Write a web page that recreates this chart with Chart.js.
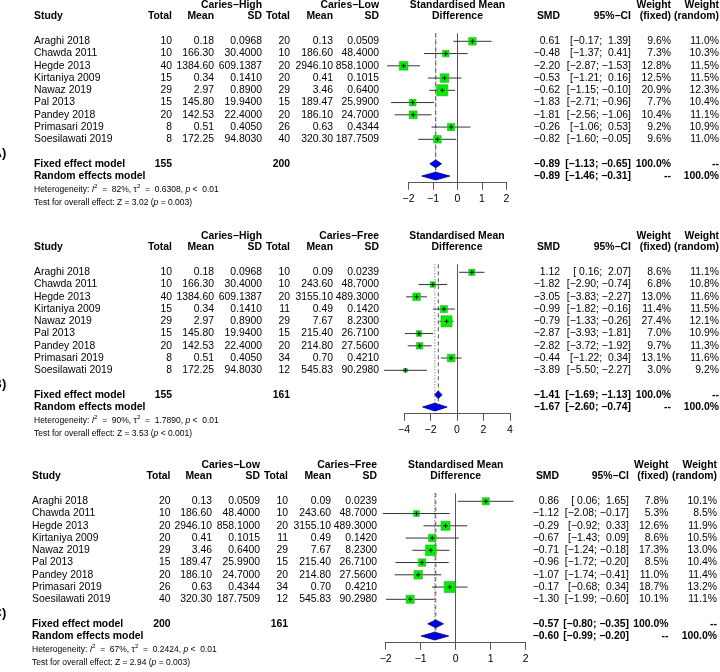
<!DOCTYPE html>
<html>
<head>
<meta charset="utf-8">
<script src="https://cdn.jsdelivr.net/npm/chart.js@4.4.1/dist/chart.umd.min.js"></script>
<style>
  html, body { margin: 0; padding: 0; background: #fff; overflow: hidden; width: 720px; height: 672px; }
  .panel { position: absolute; left: 0; width: 720px; height: 231px; }
</style>
</head>
<body>
<div class="panel" style="top:0px"><canvas id="chartA" width="720" height="231"></canvas></div>
<div class="panel" style="top:231px"><canvas id="chartB" width="720" height="231"></canvas></div>
<div class="panel" style="top:460px"><canvas id="chartC" width="720" height="231"></canvas></div>
<script>
// Estudos (mesma ordem nos três painéis)
const studies = ["Araghi 2018", "Chawda 2011", "Hegde 2013", "Kirtaniya 2009", "Nawaz 2019",
  "Pal 2013", "Pandey 2018", "Primasari 2019", "Soesilawati 2019"]

// Caries-High
const highN = [10, 10, 40, 15, 29, 15, 20, 8, 8]
const highMean = [0.18, 166.30, 1384.60, 0.34, 2.97, 145.80, 142.53, 0.51, 172.25]
const highSd = [0.0968, 30.4, 609.1387, 0.141, 0.89, 19.94, 22.4, 0.405, 94.803]
// Caries-Low
const lowN = [20, 10, 20, 20, 29, 15, 20, 26, 40]
const lowMean = [0.13, 186.60, 2946.10, 0.41, 3.46, 189.47, 186.10, 0.63, 320.30]
const lowSd = [0.0509, 48.4, 858.1, 0.1015, 0.64, 25.99, 24.7, 0.4344, 187.7509]
// Caries-Free
const freeN = [10, 10, 20, 11, 29, 15, 20, 34, 12]
const freeMean = [0.09, 243.60, 3155.10, 0.49, 7.67, 215.40, 214.80, 0.70, 545.83]
const freeSd = [0.0239, 48.7, 489.3, 0.142, 8.23, 26.71, 27.56, 0.421, 90.298]

// A) High vs Low
const smdA = [0.61, -0.48, -2.20, -0.53, -0.62, -1.83, -1.81, -0.26, -0.82]
const loA = [-0.17, -1.37, -2.87, -1.21, -1.15, -2.71, -2.56, -1.06, -1.60]
const hiA = [1.39, 0.41, -1.53, 0.16, -0.10, -0.96, -1.06, 0.53, -0.05]
const wFixA = [9.6, 7.3, 12.8, 12.5, 20.9, 7.7, 10.4, 9.2, 9.6]
const wRanA = [11.0, 10.3, 11.5, 11.5, 12.3, 10.4, 11.1, 10.9, 11.0]
const fixedA = [-0.89, -1.13, -0.65]
const randomA = [-0.89, -1.46, -0.31]
const totalsA = [155, 200]
const hetA = ["82%", "0.6308", "< 0.01"]
const testA = ["3.02", "= 0.003"]
const ticksA = [-2, -1, 0, 1, 2]

// B) High vs Free
const smdB = [1.12, -1.82, -3.05, -0.99, -0.79, -2.87, -2.82, -0.44, -3.89]
const loB = [0.16, -2.90, -3.83, -1.82, -1.33, -3.93, -3.72, -1.22, -5.50]
const hiB = [2.07, -0.74, -2.27, -0.16, -0.26, -1.81, -1.92, 0.34, -2.27]
const wFixB = [8.6, 6.8, 13.0, 11.4, 27.4, 7.0, 9.7, 13.1, 3.0]
const wRanB = [11.1, 10.8, 11.6, 11.5, 12.1, 10.9, 11.3, 11.6, 9.2]
const fixedB = [-1.41, -1.69, -1.13]
const randomB = [-1.67, -2.60, -0.74]
const totalsB = [155, 161]
const hetB = ["90%", "1.7890", "< 0.01"]
const testB = ["3.53", "< 0.001"]
const ticksB = [-4, -2, 0, 2, 4]

// C) Low vs Free
const smdC = [0.86, -1.12, -0.29, -0.67, -0.71, -0.96, -1.07, -0.17, -1.30]
const loC = [0.06, -2.08, -0.92, -1.43, -1.24, -1.72, -1.74, -0.68, -1.99]
const hiC = [1.65, -0.17, 0.33, 0.09, -0.18, -0.20, -0.41, 0.34, -0.60]
const wFixC = [7.8, 5.3, 12.6, 8.6, 17.3, 8.5, 11.0, 18.7, 10.1]
const wRanC = [10.1, 8.5, 11.9, 10.5, 13.0, 10.4, 11.4, 13.2, 11.1]
const fixedC = [-0.57, -0.80, -0.35]
const randomC = [-0.60, -0.99, -0.20]
const totalsC = [200, 161]
const hetC = ["67%", "0.2424", "< 0.01"]
const testC = ["2.94", "= 0.003"]
const ticksC = [-2, -1, 0, 1, 2]

// layout
const FONT = "'Liberation Sans', Arial, Helvetica, sans-serif"
const FS = 10.4
const ROW = 12.25
const ROW0 = 41.3
const Y_MIN = -0.65
const Y_MAX = 11.55
const AXIS_H = 24
const SQUARE_MAX = 11.2
const DH = 0.32

const colsAB = { study: 34, nE: 172, meanE: 214, sdE: 262, nC: 290, meanC: 333, sdC: 379, smd: 560, ci: 631, wf: 671, wr: 719 }
const colsC = { study: 32, nE: 170.5, meanE: 212, sdE: 260, nC: 288, meanC: 331, sdC: 377, smd: 559, ci: 629, wf: 668.5, wr: 717 }

const MINUS = "\u2212"
const fmtSigned = v => (v < 0 ? MINUS : " ") + Math.abs(v).toFixed(2)
const fmtSMD = v => (v < 0 ? MINUS : "") + Math.abs(v).toFixed(2)
const fmtCI = (lo, hi) => `[${fmtSigned(lo)}; ${fmtSigned(hi)}]`
const fmtTick = v => (v < 0 ? MINUS : "") + Math.abs(v)

const panels = [
  { id: "chartA", tag: "A)", labelE: "Caries\u2212High", labelC: "Caries\u2212Low",
    nE: highN, meanE: highMean, sdE: highSd, nC: lowN, meanC: lowMean, sdC: lowSd,
    smd: smdA, lo: loA, hi: hiA, wf: wFixA, wr: wRanA, fixed: fixedA, random: randomA,
    totals: totalsA, het: hetA, test: testA, ticks: ticksA, cols: colsAB, xLeft: 408.5, xRight: 506.5 },
  { id: "chartB", tag: "B)", labelE: "Caries\u2212High", labelC: "Caries\u2212Free",
    nE: highN, meanE: highMean, sdE: highSd, nC: freeN, meanC: freeMean, sdC: freeSd,
    smd: smdB, lo: loB, hi: hiB, wf: wFixB, wr: wRanB, fixed: fixedB, random: randomB,
    totals: totalsB, het: hetB, test: testB, ticks: ticksB, cols: colsAB, xLeft: 404, xRight: 510 },
  { id: "chartC", tag: "C)", labelE: "Caries\u2212Low", labelC: "Caries\u2212Free",
    nE: lowN, meanE: lowMean, sdE: lowSd, nC: freeN, meanC: freeMean, sdC: freeSd,
    smd: smdC, lo: loC, hi: hiC, wf: wFixC, wr: wRanC, fixed: fixedC, random: randomC,
    totals: totalsC, het: hetC, test: testC, ticks: ticksC, cols: colsC, xLeft: 385.7, xRight: 525.7 },
]

// texto com itálico / sobrescrito
function drawRich(ctx, x, y, parts, size) {
  ctx.textAlign = "left"
  parts.forEach(([txt, style]) => {
    let dy = 0
    if (style === "i") ctx.font = `italic ${size}px ${FONT}`
    else if (style === "sup") { ctx.font = `${size * 0.72}px ${FONT}`; dy = -size * 0.4 }
    else ctx.font = `${size}px ${FONT}`
    ctx.fillText(txt, x, y + dy)
    x += ctx.measureText(txt).width
  })
}

function drawTable(chart, p) {
  const ctx = chart.ctx
  const ys = chart.scales.y
  const mid = chart.scales.x.getPixelForValue(0)
  const c = p.cols
  const put = (txt, px, r, align, bold, size) => {
    ctx.font = `${bold ? "bold " : ""}${size || FS}px ${FONT}`
    ctx.textAlign = align
    ctx.fillText(txt, px, ys.getPixelForValue(r))
  }
  ctx.save()
  ctx.fillStyle = "#000"
  ctx.textBaseline = "middle"

  const H1 = -2.97, H2 = -2.05
  put(p.labelE, c.sdE, H1, "right", true)
  put(p.labelC, c.sdC, H1, "right", true)
  put("Standardised Mean", mid, H1, "center", true)
  put("Weight", c.wf, H1, "right", true)
  put("Weight", c.wr, H1, "right", true)
  put("Study", c.study, H2, "left", true)
  put("Total", c.nE, H2, "right", true)
  put("Mean", c.meanE, H2, "right", true)
  put("SD", c.sdE, H2, "right", true)
  put("Total", c.nC, H2, "right", true)
  put("Mean", c.meanC, H2, "right", true)
  put("SD", c.sdC, H2, "right", true)
  put("Difference", mid, H2, "center", true)
  put("SMD", c.smd, H2, "right", true)
  put("95%\u2212CI", c.ci, H2, "right", true)
  put("(fixed)", c.wf, H2, "right", true)
  put("(random)", c.wr, H2, "right", true)

  studies.forEach((s, i) => {
    put(s, c.study, i, "left")
    put(String(p.nE[i]), c.nE, i, "right")
    put(p.meanE[i].toFixed(2), c.meanE, i, "right")
    put(p.sdE[i].toFixed(4), c.sdE, i, "right")
    put(String(p.nC[i]), c.nC, i, "right")
    put(p.meanC[i].toFixed(2), c.meanC, i, "right")
    put(p.sdC[i].toFixed(4), c.sdC, i, "right")
    put(fmtSMD(p.smd[i]), c.smd, i, "right")
    put(fmtCI(p.lo[i], p.hi[i]), c.ci, i, "right")
    put(p.wf[i].toFixed(1) + "%", c.wf, i, "right")
    put(p.wr[i].toFixed(1) + "%", c.wr, i, "right")
  })

  // modelos
  put("Fixed effect model", c.study, 10, "left", true)
  put(String(p.totals[0]), c.nE, 10, "right", true)
  put(String(p.totals[1]), c.nC, 10, "right", true)
  put(fmtSMD(p.fixed[0]), c.smd, 10, "right", true)
  put(fmtCI(p.fixed[1], p.fixed[2]), c.ci, 10, "right", true)
  put("100.0%", c.wf, 10, "right", true)
  put("--", c.wr, 10, "right", true)
  put("Random effects model", c.study, 11, "left", true)
  put(fmtSMD(p.random[0]), c.smd, 11, "right", true)
  put(fmtCI(p.random[1], p.random[2]), c.ci, 11, "right", true)
  put("--", c.wf, 11, "right", true)
  put("100.0%", c.wr, 11, "right", true)

  // rodapé (espaçamento estilo plotmath em volta dos operadores)
  const fs2 = 8.5
  drawRich(ctx, c.study, ys.getPixelForValue(12.1), [
    ["Heterogeneity: ", "n"], ["I", "i"], ["2", "sup"], ["  =  " + p.het[0] + ", \u03c4", "n"], ["2", "sup"],
    ["  =  " + p.het[1] + ", ", "n"], ["p", "i"], [" " + p.het[2].replace(" ", "  "), "n"]], fs2)
  drawRich(ctx, c.study, ys.getPixelForValue(13.2), [
    ["Test for overall effect: Z = " + p.test[0] + " (", "n"], ["p", "i"], [" " + p.test[1] + ")", "n"]], fs2)

  // letra do painel (cortada na borda)
  put(p.tag, -7.5, 9.15, "left", true, 13)
  ctx.restore()
}

function buildChart(p) {
  const maxW = Math.max(...p.wf)
  const squares = p.smd.map((v, i) => ({ x: v, y: i }))
  const radii = p.wf.map(w => SQUARE_MAX * Math.sqrt(w / maxW) / Math.SQRT2)
  const ciLines = []
  p.lo.forEach((lo, i) => {
    ciLines.push({ x: lo, y: i }, { x: p.hi[i], y: i }, { x: p.smd[i], y: null })
  })
  const diamond = (est, row) => [
    { x: est[1], y: row }, { x: est[0], y: row - DH }, { x: est[2], y: row },
    { x: est[0], y: row + DH }, { x: est[1], y: row }]
  const vline = (v, to) => [{ x: v, y: Y_MIN }, { x: v, y: to }]

  const lineDs = (data, extra) => Object.assign({
    type: "line", data, borderColor: "#333", borderWidth: 1, pointRadius: 0,
    tension: 0, fill: false, spanGaps: false, clip: false,
  }, extra)

  const ctx = document.getElementById(p.id).getContext("2d")
  return new Chart(ctx, {
    type: "scatter",
    data: {
      datasets: [
        lineDs(vline(p.fixed[0], 10.6), { borderColor: "#555", borderDash: [4, 3], order: 5 }),
        lineDs(vline(p.random[0], 11.3), { borderColor: "#555", borderDash: [1, 2], order: 5 }),
        lineDs(ciLines, { borderColor: "#333", order: 4 }),
        {
          type: "scatter", data: squares, pointStyle: "rect", pointRadius: radii,
          backgroundColor: "#00EE00", borderColor: "#3a9a3a", borderWidth: 0.5, order: 3, clip: false,
        },
        {
          type: "scatter", data: squares, pointStyle: "cross", pointRadius: 2.2,
          borderColor: "#000", borderWidth: 1, order: 2, clip: false,
        },
        lineDs(diamond(p.fixed, 10), { fill: "shape", backgroundColor: "#0000EE", borderColor: "#00006a", borderWidth: 0.8, order: 1 }),
        lineDs(diamond(p.random, 11), { fill: "shape", backgroundColor: "#0000EE", borderColor: "#00006a", borderWidth: 0.8, order: 1 }),
      ],
    },
    options: {
      responsive: false,
      animation: false,
      events: [],
      layout: {
        padding: {
          left: p.xLeft, right: 720 - p.xRight,
          top: ROW0 + Y_MIN * ROW,
          bottom: 231 - (ROW0 + Y_MAX * ROW) - AXIS_H,
        },
      },
      plugins: { legend: { display: false }, tooltip: { enabled: false } },
      scales: {
        x: {
          type: "linear",
          min: p.ticks[0],
          max: p.ticks[p.ticks.length - 1],
          afterBuildTicks: s => { s.ticks = p.ticks.map(v => ({ value: v })) },
          afterFit: s => { s.height = AXIS_H },
          grid: {
            color: c => (c.tick && c.tick.value === 0 ? "#555" : "rgba(0,0,0,0)"),
            tickColor: "#555",
            tickLength: 7,
            lineWidth: 1,
          },
          border: { display: true, color: "#555", width: 1 },
          ticks: {
            color: "#000", padding: 3, maxRotation: 0, autoSkip: false,
            font: { family: FONT, size: 10.5 },
            callback: v => fmtTick(v),
          },
        },
        y: { type: "linear", reverse: true, min: Y_MIN, max: Y_MAX, display: false },
      },
    },
    plugins: [{ id: "forestText", afterDraw: chart => drawTable(chart, p) }],
  })
}

panels.forEach(buildChart)
</script>
</body>
</html>
